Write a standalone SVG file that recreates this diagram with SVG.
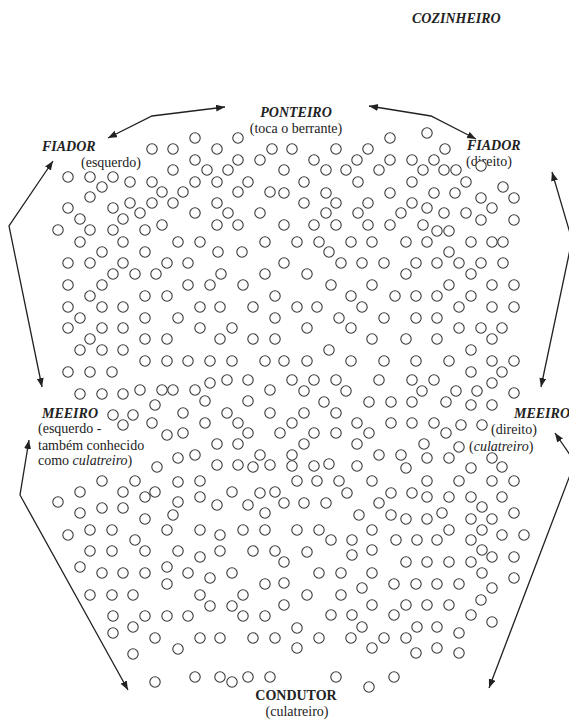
<svg xmlns="http://www.w3.org/2000/svg" width="569" height="719" viewBox="0 0 569 719">
<style>
.o{fill:#fff;stroke:#3a3a3a;stroke-width:1.1}
.t{font-family:"Liberation Serif","Times New Roman",serif;font-size:14px;fill:#222}
.bi{font-weight:bold;font-style:italic}
.b{font-weight:bold}
.i{font-style:italic}
.c{fill:none;stroke:#222;stroke-width:1.3}
</style>
<defs>
<marker id="ah" markerUnits="userSpaceOnUse" markerWidth="10" markerHeight="8" refX="9" refY="3.5" orient="auto-start-reverse">
<path d="M0,0 L9,3.5 L0,7 z" fill="#222"/>
</marker>
</defs>
<rect width="569" height="719" fill="#fff"/>
<g id="herd">
<circle class="o" cx="195" cy="138" r="5.2"/><circle class="o" cx="238" cy="138" r="5.2"/>
<circle class="o" cx="152" cy="149" r="5.2"/><circle class="o" cx="173" cy="149" r="5.2"/><circle class="o" cx="217" cy="149" r="5.2"/><circle class="o" cx="272" cy="149" r="5.2"/>
<circle class="o" cx="195" cy="160" r="5.2"/><circle class="o" cx="238" cy="160" r="5.2"/><circle class="o" cx="260" cy="160" r="5.2"/>
<circle class="o" cx="173" cy="170" r="5.2"/><circle class="o" cx="207" cy="170" r="5.2"/><circle class="o" cx="228" cy="170" r="5.2"/>
<circle class="o" cx="68" cy="177" r="5.2"/><circle class="o" cx="90" cy="177" r="5.2"/><circle class="o" cx="113" cy="177" r="5.2"/>
<circle class="o" cx="130" cy="182" r="5.2"/><circle class="o" cx="152" cy="182" r="5.2"/><circle class="o" cx="195" cy="182" r="5.2"/><circle class="o" cx="217" cy="182" r="5.2"/><circle class="o" cx="248" cy="182" r="5.2"/>
<circle class="o" cx="102" cy="187" r="5.2"/>
<circle class="o" cx="162" cy="192" r="5.2"/><circle class="o" cx="183" cy="192" r="5.2"/><circle class="o" cx="238" cy="192" r="5.2"/><circle class="o" cx="270" cy="192" r="5.2"/>
<circle class="o" cx="90" cy="197" r="5.2"/>
<circle class="o" cx="130" cy="203" r="5.2"/><circle class="o" cx="152" cy="203" r="5.2"/><circle class="o" cx="173" cy="203" r="5.2"/><circle class="o" cx="217" cy="203" r="5.2"/>
<circle class="o" cx="68" cy="208" r="5.2"/><circle class="o" cx="113" cy="208" r="5.2"/>
<circle class="o" cx="140" cy="213" r="5.2"/><circle class="o" cx="195" cy="213" r="5.2"/><circle class="o" cx="228" cy="213" r="5.2"/><circle class="o" cx="260" cy="213" r="5.2"/>
<circle class="o" cx="80" cy="219" r="5.2"/><circle class="o" cx="123" cy="219" r="5.2"/>
<circle class="o" cx="162" cy="225" r="5.2"/><circle class="o" cx="217" cy="225" r="5.2"/><circle class="o" cx="238" cy="225" r="5.2"/>
<circle class="o" cx="58" cy="230" r="5.2"/><circle class="o" cx="90" cy="230" r="5.2"/><circle class="o" cx="113" cy="230" r="5.2"/><circle class="o" cx="145" cy="230" r="5.2"/>
<circle class="o" cx="80" cy="242" r="5.2"/><circle class="o" cx="123" cy="242" r="5.2"/><circle class="o" cx="178" cy="242" r="5.2"/><circle class="o" cx="200" cy="242" r="5.2"/><circle class="o" cx="265" cy="242" r="5.2"/>
<circle class="o" cx="102" cy="252" r="5.2"/><circle class="o" cx="145" cy="252" r="5.2"/><circle class="o" cx="218" cy="252" r="5.2"/><circle class="o" cx="242" cy="252" r="5.2"/>
<circle class="o" cx="68" cy="263" r="5.2"/><circle class="o" cx="90" cy="263" r="5.2"/><circle class="o" cx="123" cy="263" r="5.2"/><circle class="o" cx="167" cy="263" r="5.2"/><circle class="o" cx="188" cy="263" r="5.2"/>
<circle class="o" cx="113" cy="274" r="5.2"/><circle class="o" cx="135" cy="274" r="5.2"/><circle class="o" cx="156" cy="274" r="5.2"/><circle class="o" cx="221" cy="274" r="5.2"/><circle class="o" cx="265" cy="274" r="5.2"/>
<circle class="o" cx="284" cy="170" r="5.2"/><circle class="o" cx="284" cy="193" r="5.2"/><circle class="o" cx="284" cy="225" r="5.2"/><circle class="o" cx="284" cy="263" r="5.2"/>
<circle class="o" cx="427" cy="133" r="5.2"/><circle class="o" cx="390" cy="138" r="5.2"/>
<circle class="o" cx="292" cy="149" r="5.2"/><circle class="o" cx="336" cy="149" r="5.2"/><circle class="o" cx="368" cy="149" r="5.2"/><circle class="o" cx="445" cy="149" r="5.2"/>
<circle class="o" cx="314" cy="160" r="5.2"/><circle class="o" cx="357" cy="160" r="5.2"/><circle class="o" cx="390" cy="160" r="5.2"/><circle class="o" cx="412" cy="160" r="5.2"/><circle class="o" cx="434" cy="160" r="5.2"/>
<circle class="o" cx="326" cy="170" r="5.2"/><circle class="o" cx="346" cy="170" r="5.2"/><circle class="o" cx="379" cy="170" r="5.2"/><circle class="o" cx="423" cy="170" r="5.2"/><circle class="o" cx="444" cy="170" r="5.2"/><circle class="o" cx="456" cy="170" r="5.2"/>
<circle class="o" cx="304" cy="182" r="5.2"/><circle class="o" cx="358" cy="182" r="5.2"/><circle class="o" cx="412" cy="182" r="5.2"/><circle class="o" cx="466" cy="182" r="5.2"/>
<circle class="o" cx="503" cy="187" r="5.2"/>
<circle class="o" cx="326" cy="193" r="5.2"/><circle class="o" cx="390" cy="193" r="5.2"/><circle class="o" cx="434" cy="193" r="5.2"/><circle class="o" cx="455" cy="193" r="5.2"/>
<circle class="o" cx="481" cy="198" r="5.2"/><circle class="o" cx="514" cy="198" r="5.2"/>
<circle class="o" cx="304" cy="203" r="5.2"/><circle class="o" cx="336" cy="203" r="5.2"/><circle class="o" cx="368" cy="203" r="5.2"/><circle class="o" cx="412" cy="203" r="5.2"/>
<circle class="o" cx="492" cy="208" r="5.2"/><circle class="o" cx="427" cy="208" r="5.2"/>
<circle class="o" cx="326" cy="213" r="5.2"/><circle class="o" cx="358" cy="213" r="5.2"/><circle class="o" cx="401" cy="213" r="5.2"/><circle class="o" cx="444" cy="213" r="5.2"/><circle class="o" cx="466" cy="213" r="5.2"/>
<circle class="o" cx="481" cy="220" r="5.2"/><circle class="o" cx="514" cy="220" r="5.2"/>
<circle class="o" cx="314" cy="225" r="5.2"/><circle class="o" cx="336" cy="225" r="5.2"/><circle class="o" cx="368" cy="225" r="5.2"/><circle class="o" cx="390" cy="225" r="5.2"/><circle class="o" cx="423" cy="225" r="5.2"/>
<circle class="o" cx="437" cy="231" r="5.2"/><circle class="o" cx="449" cy="231" r="5.2"/>
<circle class="o" cx="297" cy="242" r="5.2"/><circle class="o" cx="319" cy="242" r="5.2"/><circle class="o" cx="351" cy="242" r="5.2"/><circle class="o" cx="372" cy="242" r="5.2"/><circle class="o" cx="406" cy="242" r="5.2"/><circle class="o" cx="427" cy="242" r="5.2"/><circle class="o" cx="471" cy="242" r="5.2"/><circle class="o" cx="492" cy="242" r="5.2"/><circle class="o" cx="503" cy="242" r="5.2"/>
<circle class="o" cx="329" cy="252" r="5.2"/><circle class="o" cx="449" cy="252" r="5.2"/>
<circle class="o" cx="341" cy="263" r="5.2"/><circle class="o" cx="362" cy="263" r="5.2"/><circle class="o" cx="384" cy="263" r="5.2"/><circle class="o" cx="416" cy="263" r="5.2"/><circle class="o" cx="437" cy="263" r="5.2"/><circle class="o" cx="459" cy="263" r="5.2"/><circle class="o" cx="481" cy="263" r="5.2"/><circle class="o" cx="503" cy="263" r="5.2"/>
<circle class="o" cx="307" cy="274" r="5.2"/><circle class="o" cx="406" cy="274" r="5.2"/><circle class="o" cx="471" cy="274" r="5.2"/>
<circle class="o" cx="68" cy="285" r="5.2"/><circle class="o" cx="102" cy="285" r="5.2"/><circle class="o" cx="188" cy="285" r="5.2"/><circle class="o" cx="210" cy="285" r="5.2"/><circle class="o" cx="243" cy="285" r="5.2"/>
<circle class="o" cx="90" cy="296" r="5.2"/><circle class="o" cx="145" cy="296" r="5.2"/><circle class="o" cx="167" cy="296" r="5.2"/><circle class="o" cx="275" cy="296" r="5.2"/>
<circle class="o" cx="68" cy="307" r="5.2"/><circle class="o" cx="102" cy="307" r="5.2"/><circle class="o" cx="123" cy="307" r="5.2"/><circle class="o" cx="200" cy="307" r="5.2"/><circle class="o" cx="220" cy="307" r="5.2"/><circle class="o" cx="253" cy="307" r="5.2"/>
<circle class="o" cx="80" cy="318" r="5.2"/><circle class="o" cx="145" cy="318" r="5.2"/><circle class="o" cx="178" cy="318" r="5.2"/><circle class="o" cx="275" cy="318" r="5.2"/>
<circle class="o" cx="68" cy="328" r="5.2"/><circle class="o" cx="102" cy="328" r="5.2"/><circle class="o" cx="123" cy="328" r="5.2"/><circle class="o" cx="200" cy="328" r="5.2"/><circle class="o" cx="232" cy="328" r="5.2"/>
<circle class="o" cx="90" cy="339" r="5.2"/><circle class="o" cx="145" cy="339" r="5.2"/><circle class="o" cx="167" cy="339" r="5.2"/><circle class="o" cx="220" cy="339" r="5.2"/><circle class="o" cx="253" cy="339" r="5.2"/><circle class="o" cx="275" cy="339" r="5.2"/>
<circle class="o" cx="80" cy="350" r="5.2"/><circle class="o" cx="102" cy="350" r="5.2"/><circle class="o" cx="123" cy="350" r="5.2"/>
<circle class="o" cx="145" cy="361" r="5.2"/><circle class="o" cx="167" cy="361" r="5.2"/><circle class="o" cx="188" cy="361" r="5.2"/><circle class="o" cx="210" cy="361" r="5.2"/><circle class="o" cx="232" cy="361" r="5.2"/><circle class="o" cx="265" cy="361" r="5.2"/>
<circle class="o" cx="68" cy="372" r="5.2"/><circle class="o" cx="90" cy="372" r="5.2"/><circle class="o" cx="112" cy="372" r="5.2"/>
<circle class="o" cx="210" cy="383" r="5.2"/><circle class="o" cx="227" cy="380" r="5.2"/><circle class="o" cx="248" cy="380" r="5.2"/>
<circle class="o" cx="80" cy="394" r="5.2"/><circle class="o" cx="102" cy="394" r="5.2"/><circle class="o" cx="123" cy="394" r="5.2"/><circle class="o" cx="140" cy="390" r="5.2"/><circle class="o" cx="162" cy="390" r="5.2"/><circle class="o" cx="173" cy="390" r="5.2"/><circle class="o" cx="195" cy="390" r="5.2"/><circle class="o" cx="270" cy="390" r="5.2"/>
<circle class="o" cx="205" cy="401" r="5.2"/><circle class="o" cx="248" cy="401" r="5.2"/>
<circle class="o" cx="155" cy="405" r="5.2"/>
<circle class="o" cx="113" cy="415" r="5.2"/><circle class="o" cx="133" cy="415" r="5.2"/><circle class="o" cx="183" cy="413" r="5.2"/><circle class="o" cx="227" cy="413" r="5.2"/><circle class="o" cx="270" cy="413" r="5.2"/>
<circle class="o" cx="123" cy="425" r="5.2"/><circle class="o" cx="152" cy="423" r="5.2"/><circle class="o" cx="205" cy="423" r="5.2"/><circle class="o" cx="238" cy="423" r="5.2"/>
<circle class="o" cx="167" cy="435" r="5.2"/><circle class="o" cx="183" cy="433" r="5.2"/><circle class="o" cx="248" cy="433" r="5.2"/><circle class="o" cx="280" cy="433" r="5.2"/>
<circle class="o" cx="217" cy="444" r="5.2"/><circle class="o" cx="238" cy="444" r="5.2"/>
<circle class="o" cx="178" cy="458" r="5.2"/><circle class="o" cx="195" cy="455" r="5.2"/><circle class="o" cx="260" cy="455" r="5.2"/>
<circle class="o" cx="157" cy="467" r="5.2"/><circle class="o" cx="217" cy="465" r="5.2"/><circle class="o" cx="238" cy="465" r="5.2"/><circle class="o" cx="253" cy="467" r="5.2"/><circle class="o" cx="270" cy="465" r="5.2"/>
<circle class="o" cx="331" cy="285" r="5.2"/><circle class="o" cx="372" cy="285" r="5.2"/><circle class="o" cx="449" cy="285" r="5.2"/><circle class="o" cx="492" cy="285" r="5.2"/><circle class="o" cx="514" cy="285" r="5.2"/>
<circle class="o" cx="351" cy="296" r="5.2"/><circle class="o" cx="395" cy="296" r="5.2"/><circle class="o" cx="416" cy="296" r="5.2"/><circle class="o" cx="437" cy="296" r="5.2"/><circle class="o" cx="471" cy="296" r="5.2"/>
<circle class="o" cx="297" cy="307" r="5.2"/><circle class="o" cx="317" cy="307" r="5.2"/><circle class="o" cx="362" cy="307" r="5.2"/><circle class="o" cx="459" cy="307" r="5.2"/><circle class="o" cx="492" cy="307" r="5.2"/><circle class="o" cx="514" cy="307" r="5.2"/>
<circle class="o" cx="339" cy="318" r="5.2"/><circle class="o" cx="384" cy="318" r="5.2"/><circle class="o" cx="416" cy="318" r="5.2"/><circle class="o" cx="437" cy="318" r="5.2"/>
<circle class="o" cx="307" cy="328" r="5.2"/><circle class="o" cx="351" cy="328" r="5.2"/><circle class="o" cx="459" cy="328" r="5.2"/><circle class="o" cx="481" cy="328" r="5.2"/><circle class="o" cx="502" cy="328" r="5.2"/>
<circle class="o" cx="492" cy="339" r="5.2"/><circle class="o" cx="372" cy="339" r="5.2"/><circle class="o" cx="406" cy="339" r="5.2"/><circle class="o" cx="437" cy="339" r="5.2"/>
<circle class="o" cx="329" cy="350" r="5.2"/><circle class="o" cx="471" cy="350" r="5.2"/>
<circle class="o" cx="284" cy="361" r="5.2"/><circle class="o" cx="307" cy="361" r="5.2"/><circle class="o" cx="351" cy="361" r="5.2"/><circle class="o" cx="384" cy="361" r="5.2"/><circle class="o" cx="416" cy="361" r="5.2"/><circle class="o" cx="449" cy="361" r="5.2"/><circle class="o" cx="492" cy="361" r="5.2"/><circle class="o" cx="514" cy="361" r="5.2"/>
<circle class="o" cx="471" cy="372" r="5.2"/><circle class="o" cx="502" cy="372" r="5.2"/>
<circle class="o" cx="292" cy="380" r="5.2"/><circle class="o" cx="314" cy="380" r="5.2"/><circle class="o" cx="336" cy="380" r="5.2"/><circle class="o" cx="379" cy="380" r="5.2"/><circle class="o" cx="412" cy="380" r="5.2"/><circle class="o" cx="434" cy="380" r="5.2"/><circle class="o" cx="492" cy="383" r="5.2"/>
<circle class="o" cx="304" cy="391" r="5.2"/><circle class="o" cx="346" cy="391" r="5.2"/><circle class="o" cx="422" cy="391" r="5.2"/><circle class="o" cx="456" cy="391" r="5.2"/><circle class="o" cx="477" cy="391" r="5.2"/><circle class="o" cx="514" cy="393" r="5.2"/>
<circle class="o" cx="324" cy="402" r="5.2"/><circle class="o" cx="369" cy="402" r="5.2"/><circle class="o" cx="391" cy="402" r="5.2"/><circle class="o" cx="412" cy="402" r="5.2"/><circle class="o" cx="446" cy="402" r="5.2"/><circle class="o" cx="471" cy="405" r="5.2"/><circle class="o" cx="492" cy="405" r="5.2"/>
<circle class="o" cx="304" cy="413" r="5.2"/><circle class="o" cx="336" cy="413" r="5.2"/>
<circle class="o" cx="292" cy="423" r="5.2"/><circle class="o" cx="357" cy="423" r="5.2"/><circle class="o" cx="391" cy="423" r="5.2"/><circle class="o" cx="412" cy="423" r="5.2"/><circle class="o" cx="434" cy="423" r="5.2"/><circle class="o" cx="461" cy="425" r="5.2"/><circle class="o" cx="482" cy="425" r="5.2"/>
<circle class="o" cx="314" cy="433" r="5.2"/><circle class="o" cx="336" cy="433" r="5.2"/><circle class="o" cx="369" cy="433" r="5.2"/><circle class="o" cx="446" cy="433" r="5.2"/>
<circle class="o" cx="304" cy="444" r="5.2"/><circle class="o" cx="357" cy="444" r="5.2"/><circle class="o" cx="424" cy="444" r="5.2"/><circle class="o" cx="459" cy="447" r="5.2"/>
<circle class="o" cx="292" cy="455" r="5.2"/><circle class="o" cx="379" cy="455" r="5.2"/><circle class="o" cx="401" cy="455" r="5.2"/><circle class="o" cx="427" cy="458" r="5.2"/><circle class="o" cx="449" cy="458" r="5.2"/><circle class="o" cx="492" cy="458" r="5.2"/>
<circle class="o" cx="292" cy="466" r="5.2"/><circle class="o" cx="314" cy="466" r="5.2"/><circle class="o" cx="329" cy="464" r="5.2"/><circle class="o" cx="357" cy="466" r="5.2"/><circle class="o" cx="406" cy="468" r="5.2"/><circle class="o" cx="471" cy="468" r="5.2"/><circle class="o" cx="502" cy="467" r="5.2"/>
<circle class="o" cx="102" cy="481" r="5.2"/><circle class="o" cx="135" cy="481" r="5.2"/><circle class="o" cx="178" cy="482" r="5.2"/><circle class="o" cx="200" cy="481" r="5.2"/>
<circle class="o" cx="80" cy="492" r="5.2"/><circle class="o" cx="123" cy="492" r="5.2"/><circle class="o" cx="145" cy="497" r="5.2"/><circle class="o" cx="155" cy="492" r="5.2"/><circle class="o" cx="178" cy="502" r="5.2"/><circle class="o" cx="200" cy="497" r="5.2"/><circle class="o" cx="232" cy="492" r="5.2"/><circle class="o" cx="260" cy="493" r="5.2"/><circle class="o" cx="275" cy="492" r="5.2"/>
<circle class="o" cx="58" cy="502" r="5.2"/>
<circle class="o" cx="80" cy="513" r="5.2"/><circle class="o" cx="102" cy="508" r="5.2"/><circle class="o" cx="123" cy="508" r="5.2"/><circle class="o" cx="217" cy="505" r="5.2"/><circle class="o" cx="248" cy="505" r="5.2"/><circle class="o" cx="265" cy="513" r="5.2"/>
<circle class="o" cx="145" cy="519" r="5.2"/><circle class="o" cx="173" cy="515" r="5.2"/>
<circle class="o" cx="68" cy="535" r="5.2"/><circle class="o" cx="90" cy="530" r="5.2"/><circle class="o" cx="112" cy="530" r="5.2"/><circle class="o" cx="167" cy="530" r="5.2"/><circle class="o" cx="200" cy="530" r="5.2"/><circle class="o" cx="220" cy="535" r="5.2"/><circle class="o" cx="243" cy="530" r="5.2"/><circle class="o" cx="265" cy="530" r="5.2"/>
<circle class="o" cx="135" cy="540" r="5.2"/>
<circle class="o" cx="90" cy="551" r="5.2"/><circle class="o" cx="112" cy="551" r="5.2"/><circle class="o" cx="145" cy="551" r="5.2"/><circle class="o" cx="178" cy="551" r="5.2"/><circle class="o" cx="200" cy="557" r="5.2"/><circle class="o" cx="220" cy="551" r="5.2"/><circle class="o" cx="253" cy="551" r="5.2"/><circle class="o" cx="275" cy="551" r="5.2"/>
<circle class="o" cx="80" cy="567" r="5.2"/><circle class="o" cx="102" cy="573" r="5.2"/><circle class="o" cx="123" cy="573" r="5.2"/><circle class="o" cx="145" cy="573" r="5.2"/><circle class="o" cx="167" cy="567" r="5.2"/><circle class="o" cx="188" cy="573" r="5.2"/><circle class="o" cx="210" cy="578" r="5.2"/><circle class="o" cx="232" cy="573" r="5.2"/>
<circle class="o" cx="167" cy="584" r="5.2"/><circle class="o" cx="265" cy="584" r="5.2"/>
<circle class="o" cx="90" cy="595" r="5.2"/><circle class="o" cx="112" cy="595" r="5.2"/><circle class="o" cx="133" cy="595" r="5.2"/><circle class="o" cx="200" cy="595" r="5.2"/><circle class="o" cx="243" cy="595" r="5.2"/>
<circle class="o" cx="210" cy="606" r="5.2"/><circle class="o" cx="232" cy="606" r="5.2"/>
<circle class="o" cx="113" cy="616" r="5.2"/><circle class="o" cx="145" cy="616" r="5.2"/><circle class="o" cx="167" cy="616" r="5.2"/><circle class="o" cx="188" cy="616" r="5.2"/><circle class="o" cx="243" cy="616" r="5.2"/><circle class="o" cx="265" cy="616" r="5.2"/>
<circle class="o" cx="113" cy="633" r="5.2"/><circle class="o" cx="133" cy="627" r="5.2"/>
<circle class="o" cx="155" cy="638" r="5.2"/><circle class="o" cx="200" cy="638" r="5.2"/><circle class="o" cx="220" cy="638" r="5.2"/><circle class="o" cx="253" cy="638" r="5.2"/><circle class="o" cx="275" cy="638" r="5.2"/>
<circle class="o" cx="178" cy="649" r="5.2"/>
<circle class="o" cx="133" cy="654" r="5.2"/>
<circle class="o" cx="155" cy="682" r="5.2"/><circle class="o" cx="195" cy="677" r="5.2"/><circle class="o" cx="220" cy="677" r="5.2"/><circle class="o" cx="232" cy="682" r="5.2"/><circle class="o" cx="248" cy="677" r="5.2"/><circle class="o" cx="270" cy="677" r="5.2"/>
<circle class="o" cx="297" cy="481" r="5.2"/><circle class="o" cx="317" cy="481" r="5.2"/><circle class="o" cx="339" cy="481" r="5.2"/><circle class="o" cx="372" cy="481" r="5.2"/><circle class="o" cx="427" cy="481" r="5.2"/><circle class="o" cx="459" cy="481" r="5.2"/><circle class="o" cx="492" cy="481" r="5.2"/><circle class="o" cx="514" cy="481" r="5.2"/>
<circle class="o" cx="347" cy="493" r="5.2"/><circle class="o" cx="391" cy="493" r="5.2"/><circle class="o" cx="412" cy="493" r="5.2"/><circle class="o" cx="427" cy="497" r="5.2"/><circle class="o" cx="449" cy="497" r="5.2"/><circle class="o" cx="471" cy="497" r="5.2"/><circle class="o" cx="502" cy="497" r="5.2"/>
<circle class="o" cx="284" cy="503" r="5.2"/><circle class="o" cx="304" cy="503" r="5.2"/><circle class="o" cx="326" cy="503" r="5.2"/><circle class="o" cx="379" cy="503" r="5.2"/><circle class="o" cx="482" cy="507" r="5.2"/>
<circle class="o" cx="359" cy="515" r="5.2"/><circle class="o" cx="391" cy="515" r="5.2"/><circle class="o" cx="406" cy="519" r="5.2"/><circle class="o" cx="427" cy="519" r="5.2"/><circle class="o" cx="442" cy="513" r="5.2"/><circle class="o" cx="471" cy="519" r="5.2"/><circle class="o" cx="492" cy="519" r="5.2"/><circle class="o" cx="514" cy="513" r="5.2"/>
<circle class="o" cx="297" cy="530" r="5.2"/><circle class="o" cx="319" cy="530" r="5.2"/><circle class="o" cx="372" cy="530" r="5.2"/><circle class="o" cx="449" cy="530" r="5.2"/><circle class="o" cx="482" cy="530" r="5.2"/>
<circle class="o" cx="331" cy="540" r="5.2"/><circle class="o" cx="352" cy="540" r="5.2"/><circle class="o" cx="396" cy="540" r="5.2"/><circle class="o" cx="417" cy="540" r="5.2"/><circle class="o" cx="437" cy="540" r="5.2"/><circle class="o" cx="471" cy="540" r="5.2"/><circle class="o" cx="502" cy="535" r="5.2"/><circle class="o" cx="524" cy="535" r="5.2"/>
<circle class="o" cx="307" cy="552" r="5.2"/><circle class="o" cx="352" cy="555" r="5.2"/><circle class="o" cx="372" cy="550" r="5.2"/><circle class="o" cx="482" cy="550" r="5.2"/>
<circle class="o" cx="284" cy="562" r="5.2"/><circle class="o" cx="406" cy="562" r="5.2"/><circle class="o" cx="427" cy="562" r="5.2"/><circle class="o" cx="449" cy="562" r="5.2"/><circle class="o" cx="471" cy="562" r="5.2"/><circle class="o" cx="492" cy="557" r="5.2"/><circle class="o" cx="514" cy="557" r="5.2"/>
<circle class="o" cx="319" cy="573" r="5.2"/><circle class="o" cx="341" cy="573" r="5.2"/><circle class="o" cx="372" cy="573" r="5.2"/><circle class="o" cx="482" cy="573" r="5.2"/>
<circle class="o" cx="284" cy="583" r="5.2"/><circle class="o" cx="362" cy="588" r="5.2"/><circle class="o" cx="394" cy="584" r="5.2"/><circle class="o" cx="416" cy="584" r="5.2"/><circle class="o" cx="437" cy="584" r="5.2"/><circle class="o" cx="459" cy="584" r="5.2"/><circle class="o" cx="514" cy="578" r="5.2"/>
<circle class="o" cx="307" cy="595" r="5.2"/><circle class="o" cx="341" cy="595" r="5.2"/><circle class="o" cx="492" cy="588" r="5.2"/>
<circle class="o" cx="284" cy="605" r="5.2"/><circle class="o" cx="372" cy="605" r="5.2"/><circle class="o" cx="406" cy="605" r="5.2"/><circle class="o" cx="427" cy="605" r="5.2"/><circle class="o" cx="449" cy="605" r="5.2"/><circle class="o" cx="481" cy="600" r="5.2"/>
<circle class="o" cx="331" cy="615" r="5.2"/><circle class="o" cx="352" cy="615" r="5.2"/><circle class="o" cx="394" cy="615" r="5.2"/><circle class="o" cx="471" cy="615" r="5.2"/>
<circle class="o" cx="362" cy="627" r="5.2"/><circle class="o" cx="417" cy="627" r="5.2"/><circle class="o" cx="437" cy="627" r="5.2"/><circle class="o" cx="492" cy="622" r="5.2"/>
<circle class="o" cx="297" cy="628" r="5.2"/><circle class="o" cx="319" cy="638" r="5.2"/><circle class="o" cx="351" cy="638" r="5.2"/><circle class="o" cx="384" cy="638" r="5.2"/><circle class="o" cx="406" cy="638" r="5.2"/><circle class="o" cx="459" cy="633" r="5.2"/>
<circle class="o" cx="297" cy="648" r="5.2"/><circle class="o" cx="372" cy="648" r="5.2"/><circle class="o" cx="416" cy="653" r="5.2"/><circle class="o" cx="437" cy="648" r="5.2"/><circle class="o" cx="459" cy="653" r="5.2"/>
<circle class="o" cx="336" cy="677" r="5.2"/><circle class="o" cx="394" cy="677" r="5.2"/><circle class="o" cx="369" cy="687" r="5.2"/>
</g>
<g id="connectors">
<path class="c" d="M225,107 L152,116 L108,138" marker-start="url(#ah)" marker-end="url(#ah)"/>
<path class="c" d="M369,106 L431,116 L476,139" marker-start="url(#ah)" marker-end="url(#ah)"/>
<path class="c" d="M53,161 L9,226 L42,387" marker-start="url(#ah)" marker-end="url(#ah)"/>
<path class="c" d="M29,440 L20,495 L128,690" marker-start="url(#ah)" marker-end="url(#ah)"/>
<path class="c" d="M552,172 L572,240 L541,387" marker-start="url(#ah)" marker-end="url(#ah)"/>
<path class="c" d="M555,433 L575,462 L489,688" marker-start="url(#ah)" marker-end="url(#ah)"/>
</g>
<g id="cozinheiro"><text class="t bi" x="412" y="23">COZINHEIRO</text></g>
<g id="ponteiro">
<text class="t bi" x="296" y="117" text-anchor="middle">PONTEIRO</text>
<text class="t" x="296" y="133" text-anchor="middle">(toca o berrante)</text>
</g>
<g id="fiador-esquerdo">
<text class="t bi" x="42" y="151">FIADOR</text>
<text class="t" x="81" y="167">(esquerdo)</text>
</g>
<g id="fiador-direito">
<text class="t bi" x="467" y="150">FIADOR</text>
<text class="t" x="466" y="166">(direito)</text>
<circle class="o" cx="481" cy="166" r="5.2"/>
</g>
<g id="meeiro-esquerdo">
<text class="t bi" x="42" y="418">MEEIRO</text>
<text class="t" x="38" y="433">(esquerdo -</text>
<text class="t" x="38" y="450">também conhecido</text>
<text class="t" x="38" y="465">como <tspan class="i">culatreiro</tspan>)</text>
</g>
<g id="meeiro-direito">
<text class="t bi" x="514" y="418">MEEIRO</text>
<text class="t" x="491" y="434">(direito)</text>
<text class="t" x="469" y="451">(<tspan class="i">culatreiro</tspan>)</text>
</g>
<g id="condutor">
<text class="t b" x="296" y="700" text-anchor="middle">CONDUTOR</text>
<text class="t" x="297" y="716" text-anchor="middle">(culatreiro)</text>
</g>
</svg>
